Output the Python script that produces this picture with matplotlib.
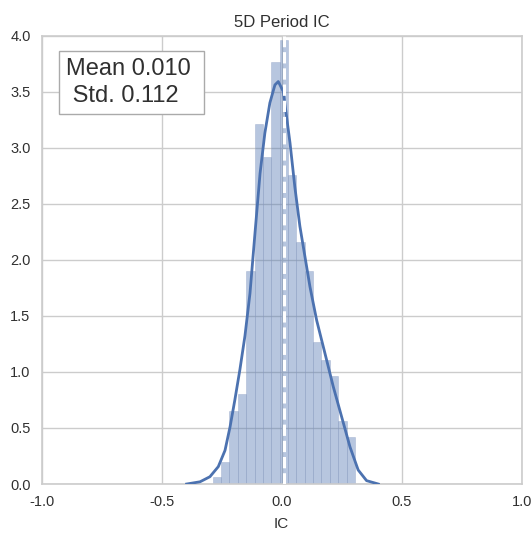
import numpy as np
import matplotlib
matplotlib.use("Agg")
import matplotlib.pyplot as plt

plt.rcParams['font.family'] = ['Liberation Sans', 'DejaVu Sans']
plt.rcParams['axes.unicode_minus'] = False

#summary numbers shown in the box
ic_mean = 0.010
ic_std = 0.112

#histogram (density)
bin_start = -0.2876
bin_width = 0.0349
density = [0.06, 0.20, 0.65, 0.80, 1.90, 3.21, 2.92, 3.76, 3.96,
           2.76, 2.16, 1.90, 1.27, 1.11, 0.96, 0.56, 0.42]

#kde curve points
kde_x = [-0.396, -0.340, -0.299, -0.264, -0.236, -0.215, -0.195, -0.174,
         -0.153, -0.132, -0.111, -0.090, -0.070, -0.049, -0.028, -0.014,
         0.007, 0.035, 0.055, 0.076, 0.097, 0.118, 0.146, 0.180, 0.215,
         0.250, 0.285, 0.319, 0.354, 0.403]
kde_y = [0.0, 0.02, 0.065, 0.155, 0.30, 0.51, 0.75, 1.02,
         1.32, 1.70, 2.24, 2.77, 3.13, 3.40, 3.56, 3.59,
         3.50, 3.04, 2.65, 2.30, 2.03, 1.76, 1.46, 1.17, 0.87,
         0.60, 0.33, 0.125, 0.03, 0.0]

x_ticks = [-1.0, -0.5, 0.0, 0.5, 1.0]
y_ticks = [0.0, 0.5, 1.0, 1.5, 2.0, 2.5, 3.0, 3.5, 4.0]

blue = '#4C72B0'
grid_col = '#CCCCCC'
text_col = '#303030'

fig = plt.figure(figsize=(5.32, 5.39), dpi=100)
ax = fig.add_axes([0.0784, 0.102, 0.902, 0.832])

#bars
edges = bin_start + bin_width * np.arange(len(density))
ax.bar(edges, density, width=bin_width, align='edge', color=blue, alpha=0.4,
       edgecolor='#8A9CC0', linewidth=0.6, zorder=2)

#kde
ax.plot(kde_x, kde_y, color=blue, lw=2, zorder=3)

#mean line
ax.axvline(ic_mean, color='w', linestyle='dashed', linewidth=2.2, zorder=4)

ax.text(0.05, 0.95, "Mean %.3f \n Std. %.3f" % (ic_mean, ic_std), fontsize=17,
        color=text_col, transform=ax.transAxes, va='top', zorder=5, linespacing=1.3,
        bbox={'facecolor': 'white', 'alpha': 1, 'pad': 5, 'edgecolor': '#AAAAAA'})

ax.set_xlim(-1, 1)
ax.set_ylim(0, 4)
ax.set_xticks(x_ticks)
ax.set_yticks(y_ticks)
ax.set_xticklabels(["%.1f" % t for t in x_ticks])
ax.set_yticklabels(["%.1f" % t for t in y_ticks])
ax.tick_params(length=0, labelsize=10.5, colors=text_col, pad=8)
ax.grid(True, color=grid_col, lw=1, zorder=0)
ax.set_axisbelow(True)
for s in ax.spines.values():
    s.set_color(grid_col)
    s.set_linewidth(1.2)

ax.set_title("5D Period IC", fontsize=12, color=text_col)
ax.set_xlabel("IC", fontsize=11, color=text_col, labelpad=6)

fig.savefig("out.png", dpi=100)
